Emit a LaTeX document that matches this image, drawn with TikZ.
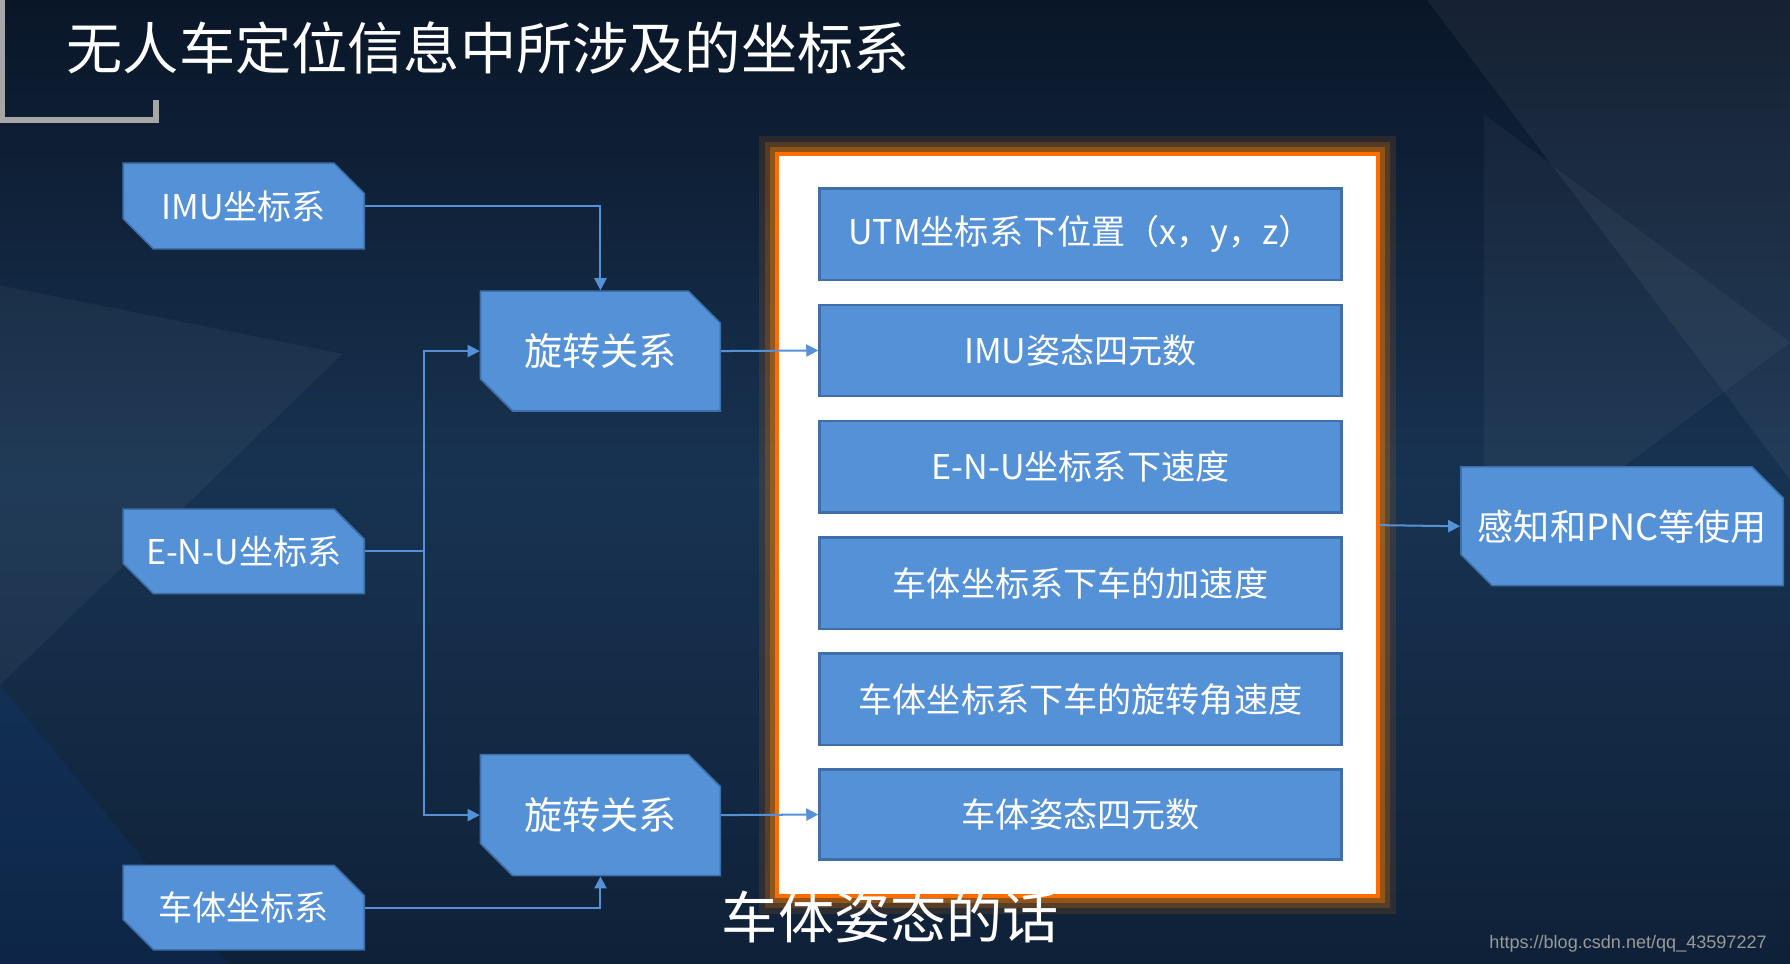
\documentclass[tikz,border=0pt]{standalone}
\usepackage{fontspec}
\setmainfont{Noto Sans CJK SC}
\newfontfamily\wmfont{Liberation Sans}
\usetikzlibrary{shapes.misc,arrows.meta,shadows}
\definecolor{bx}{HTML}{5591D6}
\definecolor{bxd}{HTML}{3E6FA8}
\definecolor{bgA}{HTML}{0A1628}
\definecolor{bgB}{HTML}{1B3A5C}
\tikzset{
 cbox/.style={chamfered rectangle,chamfered rectangle corners={north east,south west},chamfered rectangle xsep=6pt,
   fill=bx,draw=bxd,text=white,font=\fontsize{8.5}{10}\selectfont,inner sep=0pt},
 ibox/.style={rectangle,fill=bx,draw=bxd,line width=0.6pt,text=white,font=\fontsize{8.5}{10}\selectfont,minimum width=4.57cm,minimum height=0.8cm},
 conn/.style={draw=bx,line width=0.5pt},
 arr/.style={conn,-{Triangle[length=3pt,width=3pt]}}
}
\begin{document}
\begin{tikzpicture}[x=0.01cm,y=-0.01cm]
\useasboundingbox (0,0) rectangle (1568,844);
\shade[top color=bgA,bottom color=bgA!70!bgB,middle color=bgB!80!bgA] (0,0) rectangle (1568,844);
\fill[white,opacity=0.05] (1250,0)--(1568,0)--(1568,420)--cycle;
\fill[white,opacity=0.04] (0,250)--(300,310)--(0,600)--cycle;
\fill[white,opacity=0.04] (1300,100)--(1568,300)--(1300,500)--cycle;
\fill[blue!60!cyan,opacity=0.08] (0,600)--(200,844)--(0,844)--cycle;
% title frame
\draw[gray!70,line width=1.5pt] (2,0)--(2,105)--(137,105)--(137,88);
\node[anchor=west,text=white,font=\fontsize{14}{16}\selectfont] (title) at (46,42) {无人车定位信息中所涉及的坐标系};
% left boxes
\node[cbox,minimum width=2.11cm,minimum height=0.75cm] (imu) at (213.5,180.5) {IMU坐标系};
\node[cbox,minimum width=2.11cm,minimum height=0.74cm] (enu) at (213.5,483) {E-N-U坐标系};
\node[cbox,minimum width=2.11cm,minimum height=0.74cm] (car) at (213.5,795) {车体坐标系};
\node[cbox,minimum width=2.10cm,minimum height=1.05cm,font=\fontsize{9.5}{11}\selectfont] (r1) at (526,307.5) {旋转关系};
\node[cbox,minimum width=2.10cm,minimum height=1.06cm,font=\fontsize{9.5}{11}\selectfont] (r2) at (526,714) {旋转关系};
% panel glow
\foreach \w/\o in {9/0.12,6/0.2,3.5/0.35}{
  \draw[orange,line width=\w pt,opacity=\o] (681,135) rectangle (1207,785);}
\node[draw=orange!85!red,line width=1pt,fill=white,minimum width=5.26cm,minimum height=6.5cm,inner sep=0pt] (panel) at (944,460) {};
\node[ibox] (b1) at (946.5,205) {UTM坐标系下位置（x，y，z）};
\node[ibox] (b2) at (946.5,307) {IMU姿态四元数};
\node[ibox] (b3) at (946.5,409) {E-N-U坐标系下速度};
\node[ibox] (b4) at (946.5,511) {车体坐标系下车的加速度};
\node[ibox] (b5) at (946.5,612.5) {车体坐标系下车的旋转角速度};
\node[ibox,minimum height=0.79cm] (b6) at (946.5,713.5) {车体姿态四元数};
\node[cbox,minimum width=2.82cm,minimum height=1.04cm,font=\fontsize{9}{11}\selectfont] (pnc) at (1421,461) {感知和PNC等使用};
% connectors
\draw[arr] (imu.east) -| (r1.north);
\draw[arr] (car.east) -| (r2.south);
\coordinate (j) at (371,483);
\draw[conn] (enu.east) -- (j);
\draw[arr] (j) |- (r1.west);
\draw[arr] (j) |- (r2.west);
\draw[arr] (r1.east) -- (b2.west);
\draw[arr] (r2.east) -- (b6.west);
\draw[arr] (panel.east) -- (pnc.west);
% subtitle
\node[text=white,draw=none,font=\fontsize{14}{16}\selectfont] (sub) at (780,803) {车体姿态的话};
\node[anchor=east,text=gray!80,font=\fontsize{4.5}{5}\selectfont\wmfont] (wm) at (1560,827) {https://blog.csdn.net/qq\_43597227};
\end{tikzpicture}
\end{document}
